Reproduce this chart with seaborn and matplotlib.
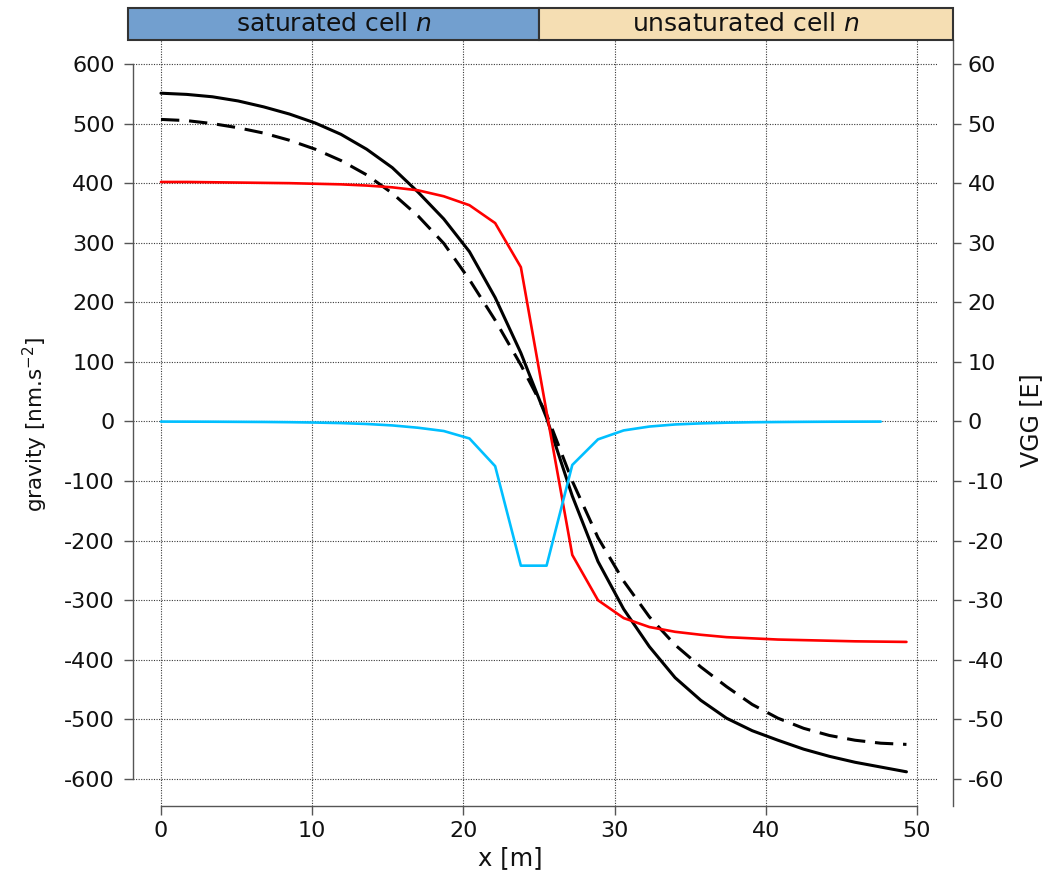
import matplotlib
matplotlib.use("Agg")
import matplotlib.pyplot as plt
import seaborn as sns
from matplotlib.patches import Rectangle

# ---------------- data ----------------
x_m = [0.0, 1.7, 3.4, 5.1, 6.8, 8.5, 10.2, 11.9, 13.6, 15.3,
       17.0, 18.7, 20.4, 22.1, 23.8, 25.5, 27.2, 28.9, 30.6, 32.3,
       34.0, 35.7, 37.4, 39.1, 40.8, 42.5, 44.2, 45.9, 47.6, 49.3]

gravity_solid = [551, 549, 545, 538, 528, 516, 501, 482, 457, 426,
                 385, 340, 285, 208, 115, 6, -125, -235, -315, -378,
                 -430, -468, -498, -519, -535, -550, -562, -572, -580, -588]

gravity_dashed = [507, 505, 500, 493, 484, 472, 457, 438, 414, 383,
                  345, 299, 238, 170, 95, 12, -100, -195, -268, -328,
                  -375, -412, -445, -475, -498, -515, -527, -535, -540, -542]

gravity_red = [402, 402, 401.5, 401, 400.5, 400, 399, 398, 396, 393,
               388, 378, 363, 333, 259, 16, -224, -300, -330, -345,
               -353, -358, -362, -364, -366, -367, -368, -369, -369.5, -370]

x_vgg = [0.0, 1.7, 3.4, 5.1, 6.8, 8.5, 10.2, 11.9, 13.6, 15.3,
         17.0, 18.7, 20.4, 22.1, 23.8, 25.5, 27.2, 28.9, 30.6, 32.3,
         34.0, 35.7, 37.4, 39.1, 40.8, 42.5, 44.2, 45.9, 47.6]

vgg_cyan = [-0.02, -0.03, -0.04, -0.06, -0.08, -0.12, -0.18, -0.27, -0.42, -0.66,
            -1.05, -1.6, -2.85, -7.5, -24.2, -24.2, -7.3, -3.0, -1.5, -0.85,
            -0.5, -0.32, -0.2, -0.13, -0.09, -0.06, -0.04, -0.03, -0.02]

x_ticks = [0, 10, 20, 30, 40, 50]
g_ticks = [-600, -500, -400, -300, -200, -100, 0, 100, 200, 300, 400, 500, 600]
vgg_ticks = [-60, -50, -40, -30, -20, -10, 0, 10, 20, 30, 40, 50, 60]
zone_labels = ["saturated cell $n$", "unsaturated cell $n$"]
zone_colors = ["#729fcf", "#f5deb3"]
zone_split = 25

# ---------------- style ----------------
sns.set_style("white")
plt.rcParams['font.family'] = ['DejaVu Sans']
plt.rcParams['axes.unicode_minus'] = False

W, H = 1046, 883
fig = plt.figure(figsize=(W / 100, H / 100), dpi=100)


def rect(l, t, r, b):
    return [l / W, 1 - b / H, (r - l) / W, (b - t) / H]


spine_col = "#555555"

ax = fig.add_axes(rect(133, 40, 937, 806))
ax.set_facecolor("none")
xlim = (-1.85, 51.32)
ylim = (-645.4, 640.3)

sns.lineplot(x=x_m, y=gravity_solid, ax=ax, color="black", lw=2.2, zorder=3)
sns.lineplot(x=x_m, y=gravity_dashed, ax=ax, color="black", lw=2.2,
             linestyle=(0, (6.0, 3.2)), zorder=3)
sns.lineplot(x=x_m, y=gravity_red, ax=ax, color="#ff0000", lw=1.9, zorder=3)

ax.set_xlim(*xlim)
ax.set_ylim(*ylim)
ax.set_xticks(x_ticks)
ax.set_yticks(g_ticks)
ax.set_xticklabels([str(v) for v in x_ticks])
ax.set_yticklabels([str(v) for v in g_ticks])
ax.grid(True, linestyle=(0, (1, 1.3)), color="#3a3a3a", lw=0.8)
ax.set_axisbelow(True)

for s in ["top", "right"]:
    ax.spines[s].set_visible(False)
ax.spines["left"].set_bounds(-600, 600)
ax.spines["bottom"].set_bounds(0, 50)
for s in ["left", "bottom"]:
    ax.spines[s].set_color(spine_col)
    ax.spines[s].set_linewidth(1.0)
ax.tick_params(axis="y", direction="out", length=6.5, width=1.0, color=spine_col,
               pad=6.5, labelsize=16, left=True, labelcolor="#111111")
ax.tick_params(axis="x", direction="out", length=6.5, width=1.0, color=spine_col,
               pad=4, labelsize=16, bottom=True, labelcolor="#111111")
ax.set_xlabel("")
ax.set_ylabel("")

# right axis (VGG)
ax2 = ax.twinx()
sns.lineplot(x=x_vgg, y=vgg_cyan, ax=ax2, color="#00bfff", lw=1.9, zorder=3)
ax2.set_ylim(ylim[0] / 10, ylim[1] / 10)
ax2.set_yticks(vgg_ticks)
ax2.set_yticklabels([str(v) for v in vgg_ticks])
ax2.set_ylabel("")
ax2.grid(False)
for s in ["top", "left", "bottom"]:
    ax2.spines[s].set_visible(False)
ax2.spines["right"].set_position(("outward", 11.5))
ax2.spines["right"].set_color(spine_col)
ax2.spines["right"].set_linewidth(1.0)
ax2.tick_params(axis="y", direction="out", length=6.0, width=1.0, color=spine_col,
                pad=4.5, labelsize=16, right=True, labelcolor="#111111")

# axis titles
fig.text(510 / W, 1 - 858 / H, "x [m]", ha="center", va="center", fontsize=17.5,
         color="#111111")
fig.text(35 / W, 1 - 425 / H, "gravity [nm.s$^{-2}$]", ha="center", va="center",
         rotation=90, fontsize=15.5, color="#111111")
fig.text(1031 / W, 1 - 420 / H, "VGG [E]", ha="center", va="center",
         rotation=90, fontsize=17, color="#111111")

# top band
axb = fig.add_axes(rect(128, 8, 953, 40))
bx = (-2.18, 52.38)
axb.set_xlim(*bx)
axb.set_ylim(0, 1)
edges = [bx[0], zone_split, bx[1]]
for i, (lab, col) in enumerate(zip(zone_labels, zone_colors)):
    axb.add_patch(Rectangle((edges[i], 0), edges[i + 1] - edges[i], 1,
                            facecolor=col, edgecolor="#333333", lw=1.5,
                            clip_on=False))
    axb.text((edges[i] + edges[i + 1]) / 2, 0.5, lab, ha="center", va="center",
             fontsize=18, color="#111111")
axb.axis("off")

fig.savefig("out.png", dpi=100)
